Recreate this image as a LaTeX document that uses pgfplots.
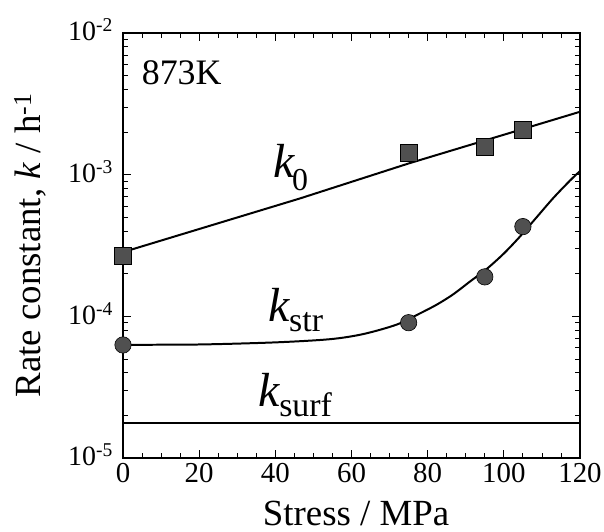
\documentclass[border=0pt]{standalone}
\usepackage{fontspec}
\setmainfont{Liberation Serif}
\usepackage{pgfplots}
\pgfplotsset{compat=1.18}
\definecolor{markfill}{HTML}{505050}
\newcommand{\tl}[1]{{\fontsize{29}{29}\selectfont #1}}
\newcommand{\yl}[1]{{\fontsize{28}{28}\selectfont 10\textsuperscript{#1}}}
\begin{document}
\begin{tikzpicture}
\begin{axis}[
 at={(0,0)}, anchor=south west,
 scale only axis, width=457bp, height=425bp,
 xmin=0, xmax=120, ymode=log, ymin=1e-5, ymax=1e-2,
 xtick={0,20,...,120}, minor x tick num=3,
 ytick={1e-5,1e-4,1e-3,1e-2},
 yticklabels={\yl{-5},\yl{-4},\yl{-3},\yl{-2}},
 xticklabels={\tl{0},\tl{20},\tl{40},\tl{60},\tl{80},\tl{100},\tl{120}},
 yticklabel style={xshift=-8bp, yshift=3bp, inner sep=2bp},
 xticklabel style={inner sep=2bp, yshift=-3bp},
 major tick length=8bp, minor tick length=5bp,
 axis line style={line width=1.2pt},
 tick style={line width=0.8pt, black},
 xlabel={Stress / MPa},
 ylabel={Rate constant, \textit{k} / h\textsuperscript{-1}},
 label style={font=\fontsize{37}{37}\selectfont},
 xlabel style={at={(axis description cs:0.51,-0.158)},anchor=base},
 ylabel style={at={(axis description cs:-0.2035,0.5)},anchor=center},
 clip=false,
]
% k0 fit line
\addplot[black, line width=2pt, no marks] coordinates {(0,2.84e-4) (46.5,6.8e-4) (75,1.2e-3) (120,2.78e-3)};
% k_str fit curve
\addplot[black, line width=2pt, no marks, smooth] coordinates {
(0,6.3e-5) (20,6.33e-5) (40,6.55e-5) (54.4,6.9e-5) (63.1,7.5e-5) (71.9,8.75e-5) (78,1.05e-4) (82.4,1.21e-4) (86.7,1.43e-4) (91.1,1.76e-4) (95.5,2.16e-4) (99.9,2.76e-4) (104,3.6e-4) (108.6,5.0e-4) (113,6.85e-4) (117.4,9.1e-4) (120,1.06e-3)};
% k_surf
\addplot[black, line width=2pt, no marks] coordinates {(0,1.76e-5) (120,1.76e-5)};
% k0 data
\addplot[only marks, mark=square*, mark size=8.5bp, mark options={fill=markfill, draw=black, line width=0.6pt}] coordinates {(0,2.67e-4) (75,1.42e-3) (95,1.57e-3) (105,2.07e-3)};
% k_str data
\addplot[only marks, mark=*, mark size=8.2bp, mark options={fill=markfill, draw=black, line width=0.6pt}] coordinates {(0,6.28e-5) (75,9.02e-5) (95,1.9e-4) (105,4.3e-4)};
\node[anchor=base west, inner sep=0, font=\fontsize{36}{36}\selectfont] at (axis cs:4.9,4.3e-3) {873K};
\node[anchor=base west, inner sep=0] at (axis cs:39.4,9.6e-4) {\fontsize{48}{48}\selectfont\textit{k}\kern-3bp\raisebox{-13bp}{\fontsize{32}{32}\selectfont 0}};
\node[anchor=base west, inner sep=0] at (axis cs:38.1,9.2e-5) {\fontsize{48}{48}\selectfont\textit{k}\kern-1bp\raisebox{-10bp}{\fontsize{34}{34}\selectfont str}};
\node[anchor=base west, inner sep=0] at (axis cs:35.5,2.3e-5) {\fontsize{48}{48}\selectfont\textit{k}\kern-1bp\raisebox{-10bp}{\fontsize{34}{34}\selectfont surf}};
\end{axis}
\pgfresetboundingbox
\path[use as bounding box] (-123bp,-74bp) rectangle (481bp,458bp);
\end{tikzpicture}
\end{document}
